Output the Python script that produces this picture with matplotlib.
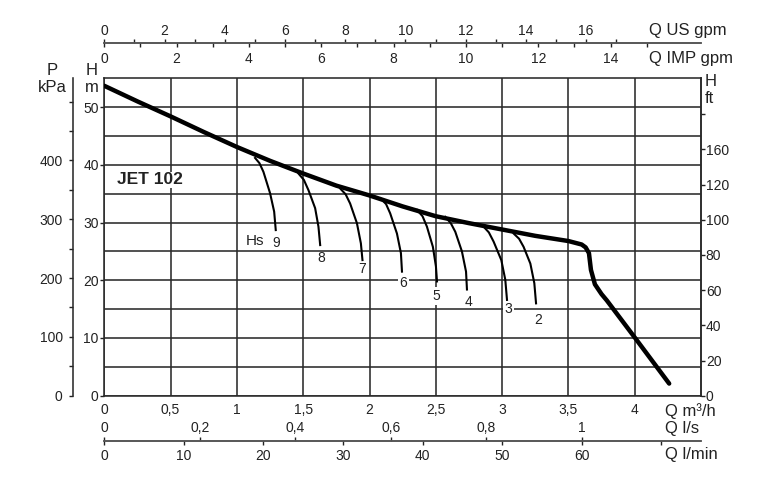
import matplotlib
matplotlib.use('Agg')
import matplotlib.pyplot as plt
import numpy as np

plt.rcParams['font.family'] = ['Liberation Sans', 'DejaVu Sans']

# ---------------- data ----------------
main_q = [0.0, 0.25, 0.5, 0.75, 1.0, 1.25, 1.5, 1.75, 2.0, 2.25, 2.5, 2.75, 3.0, 3.25,
          3.5, 3.6, 3.63, 3.655, 3.67, 3.70, 3.75, 3.79, 4.0, 4.26]
main_h = [53.7, 51.0, 48.4, 45.7, 43.1, 40.7, 38.5, 36.4, 34.7, 32.8, 31.1, 29.9, 28.8, 27.7,
          26.8, 26.2, 25.7, 24.7, 21.8, 19.3, 17.6, 16.5, 10.1, 2.1]

hs_labels = ['9', '8', '7', '6', '5', '4', '3', '2']
hs_q = [
    [1.137, 1.17, 1.20, 1.25, 1.281, 1.293],
    [1.464, 1.505, 1.54, 1.59, 1.615, 1.628],
    [1.779, 1.82, 1.854, 1.905, 1.935, 1.947],
    [2.083, 2.125, 2.156, 2.207, 2.237, 2.245],
    [2.358, 2.40, 2.433, 2.478, 2.501, 2.509],
    [2.571, 2.613, 2.647, 2.697, 2.728, 2.735],
    [2.86, 2.90, 2.936, 2.994, 3.024, 3.037],
    [3.087, 3.128, 3.162, 3.213, 3.243, 3.256],
]
hs_h = [
    [41.2, 40.3, 38.8, 35.1, 31.9, 28.7],
    [38.5, 37.4, 35.6, 32.5, 29.3, 26.1],
    [35.9, 34.9, 33.3, 29.9, 26.4, 23.5],
    [34.2, 33.2, 31.6, 28.1, 24.7, 21.5],
    [32.2, 31.1, 29.3, 25.8, 22.4, 19.8],
    [31.0, 29.9, 28.4, 25.0, 21.5, 18.4],
    [29.3, 28.3, 26.7, 23.5, 20.1, 16.6],
    [28.1, 27.2, 25.8, 22.9, 19.5, 16.0],
]
hs_label_q = [1.297, 1.636, 1.945, 2.254, 2.503, 2.745, 3.047, 3.273]
hs_label_h = [26.5, 23.8, 21.9, 19.5, 17.3, 16.2, 15.0, 13.1]
hs_label_boxed = [False, False, False, True, True, False, True, False]

x_ticks = [0, 0.5, 1, 1.5, 2, 2.5, 3, 3.5, 4]
x_ticklabels = ['0', '0,5', '1', '1,5', '2', '2,5', '3', '3,5', '4']
h_ticks = [0, 10, 20, 30, 40, 50]
h_minor = [5, 15, 25, 35, 45]
p_ticks = [0, 50, 100, 150, 200, 250, 300, 350, 400, 450, 500]
p_labels = ['0', '', '100', '', '200', '', '300', '', '400', '', '']
ft_ticks = [0, 20, 40, 60, 80, 100, 120, 140, 160]
ft_labels = ['0', '20', '40', '60', '80', '100', '120', '160', '']
us_ticks = list(range(0, 18))
us_labels = [str(v) if v % 2 == 0 else '' for v in us_ticks]
imp_ticks = list(range(0, 16))
imp_labels = [str(v) if v % 2 == 0 else '' for v in imp_ticks]
ls_ticks = [0, 0.2, 0.4, 0.6, 0.8, 1.0]
ls_labels = ['0', '0,2', '0,4', '0,6', '0,8', '1']
lmin_ticks = [0, 10, 20, 30, 40, 50, 60, 70]
lmin_labels = ['0', '10', '20', '30', '40', '50', '60', '']

# unit conversions (from m3/h)
US = 0.227125
IMP = 0.272766
LS = 3.6
LMIN = 0.06
KPA = 9.81
FT = 0.3048

W, H = 760, 497
fig = plt.figure(figsize=(W / 100, H / 100), dpi=100)
ax = fig.add_axes([104.3 / W, 1 - 395.7 / H, (701 - 104.3) / W, (395.7 - 78.3) / H])

gc = '#2a2a2a'
tc = '#222'
ax.set_xlim(0, 4.5)
ax.set_ylim(0, 55)
ax.set_xticks(x_ticks)
ax.set_xticklabels(x_ticklabels)
ax.set_yticks(h_ticks)
ax.set_yticks(h_minor, minor=True)
ax.tick_params(axis='x', length=0, pad=5, labelsize=10, colors=tc)
ax.tick_params(axis='y', which='major', length=3, width=1, pad=1, labelsize=10, colors=tc)
ax.tick_params(axis='y', which='minor', length=0)
ax.grid(True, which='both', color=gc, lw=1.15)
ax.set_axisbelow(True)
for s in ax.spines.values():
    s.set_color(gc)
    s.set_linewidth(1.15)

# main curve
ax.plot(main_q, main_h, color='black', lw=3.2, solid_capstyle='round', solid_joinstyle='round', zorder=5)
# suction curves
for q, h in zip(hs_q, hs_h):
    ax.plot(q, h, color='black', lw=1.5, solid_joinstyle='round', zorder=4)
for lab, q, h, boxed in zip(hs_labels, hs_label_q, hs_label_h, hs_label_boxed):
    kw = dict(bbox=dict(fc='white', ec='none', pad=1.2)) if boxed else {}
    ax.text(q, h, lab, ha='center', va='center', fontsize=10, color=tc, zorder=3, **kw)
ax.text(1.137, 26.8, 'Hs', ha='center', va='center', fontsize=11, color=tc)
ax.text(0.345, 37.4, 'JET 102', ha='center', va='center', fontsize=12.5, weight='bold',
        color=tc, bbox=dict(fc='white', ec='none', pad=0.5), zorder=3)

# right ft axis
ax_ft = ax.twinx()
ax_ft.set_ylim(0, 55 / FT)
ax_ft.set_yticks(ft_ticks)
ax_ft.set_yticklabels(ft_labels)
ax_ft.tick_params(axis='y', length=3, width=1, pad=0.5, labelsize=10, colors=tc)
for lbl in ax_ft.get_yticklabels():
    lbl.set_va('center_baseline')
for k, s in ax_ft.spines.items():
    s.set_visible(k == 'right')
    s.set_color(gc)
    s.set_linewidth(1.15)

# left kPa axis
ax_p = ax.twinx()
ax_p.set_ylim(0, 55 * KPA)
ax_p.yaxis.tick_left()
ax_p.spines['left'].set_position(('outward', 22.75))
for k, s in ax_p.spines.items():
    s.set_visible(k == 'left')
    s.set_color(gc)
    s.set_linewidth(1.15)
ax_p.set_yticks(p_ticks)
ax_p.set_yticklabels(p_labels)
ax_p.tick_params(axis='y', length=3.2, width=1, pad=4, labelsize=10, colors=tc)

# top flow axes
top_pos = (395.7 - 43.3) / (395.7 - 78.3)
sec_us = ax.secondary_xaxis(top_pos, functions=(lambda q: q / US, lambda g: g * US))
sec_us.set_xticks(us_ticks)
sec_us.set_xticklabels(us_labels)
sec_us.tick_params(length=3, width=1, pad=0.5, labelsize=10, colors=tc)
sec_imp = ax.secondary_xaxis(top_pos, functions=(lambda q: q / IMP, lambda g: g * IMP))
sec_imp.set_alignment('bottom')
sec_imp.set_xticks(imp_ticks)
sec_imp.set_xticklabels(imp_labels)
sec_imp.tick_params(length=3, width=1, pad=3.5, labelsize=10, colors=tc)

# bottom flow axes
bot_pos = (395.7 - 441.0) / (395.7 - 78.3)
sec_ls = ax.secondary_xaxis(bot_pos, functions=(lambda q: q / LS, lambda v: v * LS))
sec_ls.set_alignment('top')
sec_ls.set_xticks(ls_ticks)
sec_ls.set_xticklabels(ls_labels)
sec_ls.tick_params(length=3, width=1, pad=1.2, labelsize=10, colors=tc)
sec_lmin = ax.secondary_xaxis(bot_pos, functions=(lambda q: q / LMIN, lambda v: v * LMIN))
sec_lmin.set_xticks(lmin_ticks)
sec_lmin.set_xticklabels(lmin_labels)
sec_lmin.tick_params(length=3, width=1, pad=3, labelsize=10, colors=tc)
for sa in (sec_us, sec_imp, sec_ls, sec_lmin):
    for s in sa.spines.values():
        s.set_color('#555')
        s.set_linewidth(1.15)

# axis names
def ft(x, y, s, ha='left', size=12):
    fig.text(x / W, 1 - y / H, s, ha=ha, va='center', fontsize=size, color=tc)

ft(649, 30, 'Q US gpm')
ft(649, 58.3, 'Q IMP gpm')
ft(705, 81.7, 'H')
ft(705, 98.3, 'ft')
ft(52.5, 71, 'P', ha='center')
ft(52.5, 88, 'kPa', ha='center')
ft(91.5, 71, 'H', ha='center')
ft(91.5, 88, 'm', ha='center')
ft(665, 411.5, 'Q m³/h')
ft(665, 428.5, 'Q l/s')
ft(665, 454, 'Q l/min')

fig.savefig('out.png', dpi=100, facecolor='white')
